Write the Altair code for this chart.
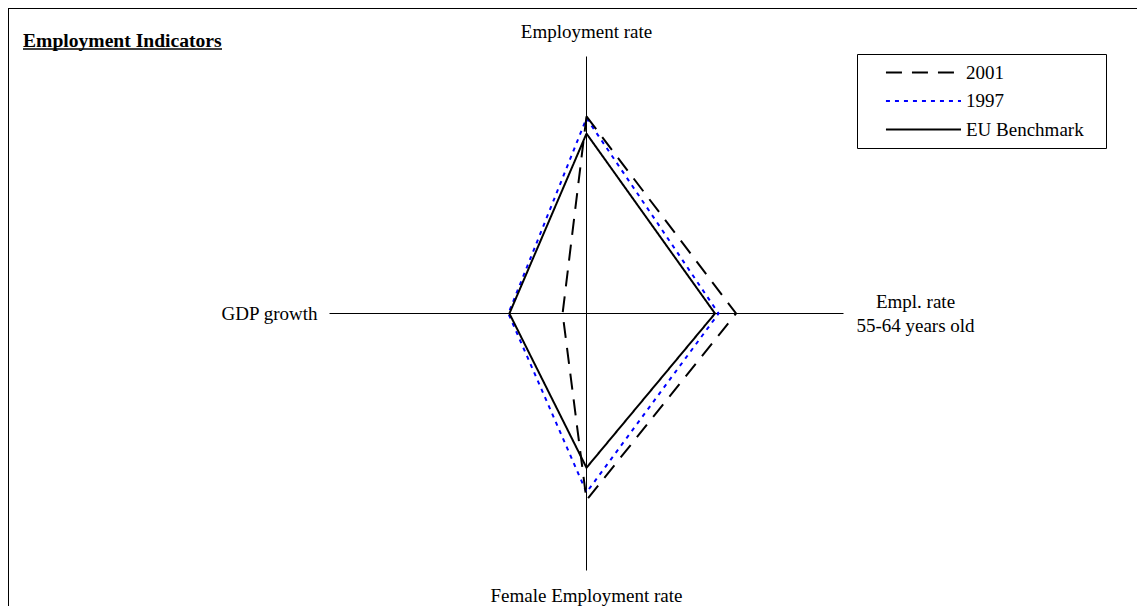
import altair as alt
import pandas as pd
import numpy as np

# ---------------- data ----------------
axis_names = ["Employment rate", "Empl. rate 55-64 years old", "Female Employment rate", "GDP growth"]
series_names = ["2001", "1997", "EU Benchmark"]
values_2001 = [76.7, 58.2, 72.6, 9.3]
values_1997 = [76.0, 51.4, 69.6, 30.4]
values_eu = [70.0, 50.0, 60.0, 30.0]
axis_max = 100
axis_angles_deg = [0, 90, 180, 270]  # clockwise from top

# ---------------- layout ----------------
W, H = 1129, 598
PX = 2.57              # pixels per data unit
CX, CY = 578.5, 305.5  # centre of the radar inside the plot area
FONT = "Liberation Serif"

x_scale = alt.Scale(domain=[-CX / PX, (W - CX) / PX], nice=False, zero=False)
y_scale = alt.Scale(domain=[-(H - CY) / PX, CY / PX], nice=False, zero=False)

ang = np.radians(axis_angles_deg)

rows = []
draw_order = [("1997", values_1997), ("2001", values_2001), ("EU Benchmark", values_eu)]
for name, vals in draw_order:
    for k in range(len(vals) + 1):
        i = k % len(vals)
        rows.append({"series": name, "order": k,
                     "x": vals[i] * np.sin(ang[i]), "y": vals[i] * np.cos(ang[i])})
df = pd.DataFrame(rows)

axes_df = pd.DataFrame({
    "x": [0.0] * 4, "y": [0.0] * 4,
    "x2": [axis_max * np.sin(a) for a in ang],
    "y2": [axis_max * np.cos(a) for a in ang],
})
one = pd.DataFrame({"k": [0]})

X = lambda f: alt.X(f, type="quantitative", scale=x_scale, axis=None)
Y = lambda f: alt.Y(f, type="quantitative", scale=y_scale, axis=None)

frame_left = alt.Chart(one).mark_rule(color="black", strokeWidth=1).encode(
    x=alt.value(0.5), y=alt.value(0), y2=alt.value(H))
frame_top = alt.Chart(one).mark_rule(color="black", strokeWidth=1).encode(
    x=alt.value(0), x2=alt.value(W), y=alt.value(0.5))

axes = alt.Chart(axes_df).mark_rule(color="black", strokeWidth=1).encode(
    x=X("x"), y=Y("y"), x2="x2", y2="y2")

# blank (non-whitespace) padding so the legend box is as wide as the original
pad_expr = "datum.label + '\u2800'"
lines = alt.Chart(df).mark_line(strokeWidth=2, clip=False).encode(
    x=X("x"), y=Y("y"),
    order="order:Q",
    color=alt.Color("series:N",
                    scale=alt.Scale(domain=series_names, range=["black", "blue", "black"]),
                    legend=alt.Legend(title=None, labelExpr=pad_expr)),
    strokeDash=alt.StrokeDash("series:N",
                              scale=alt.Scale(domain=series_names,
                                              range=[[16, 10], [4, 5], [1, 0]]),
                              legend=alt.Legend(title=None, labelExpr=pad_expr)),
)

def label(text, xv, yv, **kw):
    return alt.Chart(one).mark_text(font=FONT, fontSize=19, color="black", **kw).encode(
        x=alt.X(datum=xv, type="quantitative", scale=x_scale, axis=None),
        y=alt.Y(datum=yv, type="quantitative", scale=y_scale, axis=None),
        text=alt.value(text))

lab_top = label(axis_names[0], 0, axis_max, align="center", baseline="middle", dy=-25)
lab_right = label(["Empl. rate", "55-64 years old"], axis_max, 0, align="center",
                  baseline="middle", dx=72, dy=-12, lineHeight=24.5)
lab_bottom = label(axis_names[2], 0, -axis_max, align="center", baseline="middle", dy=25)
lab_left = label(axis_names[3], -axis_max, 0, align="right", baseline="middle", dx=-12)

title = alt.Chart(one).mark_text(font=FONT, fontSize=19.6, fontWeight="bold",
                                 align="left", baseline="alphabetic", color="black").encode(
    x=alt.value(15), y=alt.value(38.7), text=alt.value("Employment Indicators"))
underline = alt.Chart(one).mark_rule(color="black", strokeWidth=1.6).encode(
    x=alt.value(15), x2=alt.value(214), y=alt.value(41))

chart = alt.layer(frame_left, frame_top, axes, lines, lab_top, lab_right, lab_bottom, lab_left,
                  title, underline).properties(
    width=W, height=H,
    autosize=alt.AutoSizeParams(type="none"),
    padding=0,
    background="white",
).configure_view(stroke=None).configure_legend(
    orient="none", legendX=849, legendY=46,
    padding=8, strokeColor="black", fillColor="white",
    labelFont=FONT, labelFontSize=19, labelColor="black",
    symbolType="M1.1,0H9", symbolSize=361, symbolStrokeWidth=2,
    rowPadding=7.5, labelOffset=80,
)

chart.save("out.html", embed_options={"renderer": "svg", "actions": False})
